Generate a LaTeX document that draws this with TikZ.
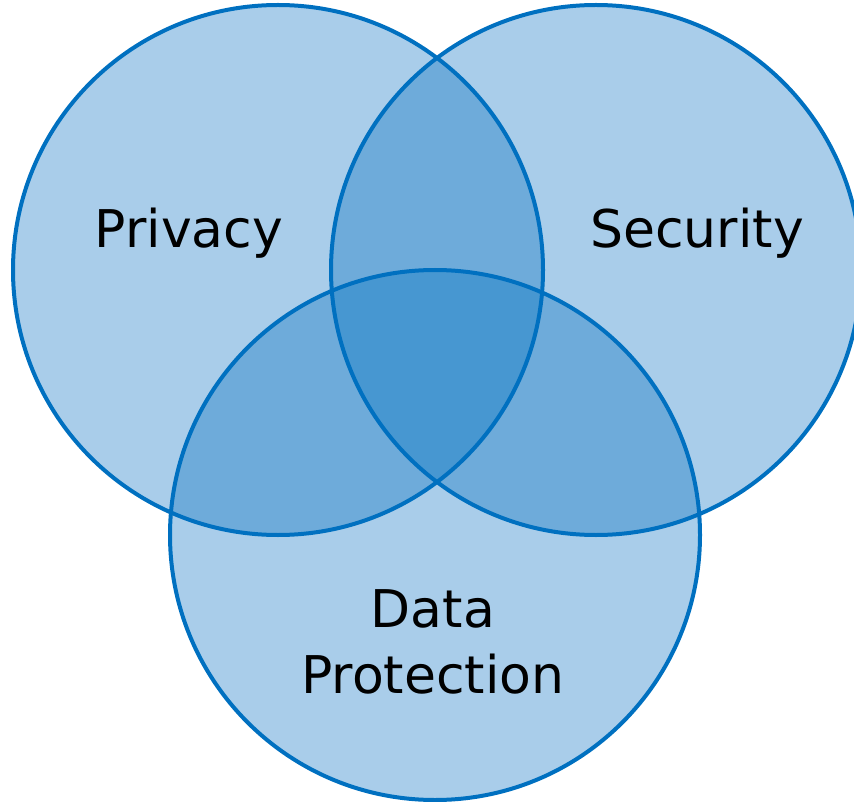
\documentclass[tikz,border=0pt]{standalone}
\usepackage{fontspec}
\setmainfont{DejaVu Sans}
\definecolor{lightfill}{HTML}{A9CDEA}
\definecolor{midfill}{HTML}{6EABDA}
\definecolor{darkfill}{HTML}{4797D1}
\definecolor{ringcol}{HTML}{0070C0}
\begin{document}
\begin{tikzpicture}[x=1pt,y=-1pt,
  ring/.style={draw=ringcol,line width=4pt},
  label/.style={font=\fontsize{52}{66}\selectfont,text=black,inner sep=0pt,align=center}]
\useasboundingbox (0,0) rectangle (854,802);
\clip (0,0) rectangle (854,802);
\def\r{265}
\coordinate (cP) at (278,270);
\coordinate (cS) at (596,270);
\coordinate (cD) at (435,535);
% base fills
\fill[lightfill] (cP) circle (\r);
\fill[lightfill] (cS) circle (\r);
\fill[lightfill] (cD) circle (\r);
% pairwise overlaps
\begin{scope}\clip (cP) circle (\r); \fill[midfill] (cS) circle (\r); \fill[midfill] (cD) circle (\r);\end{scope}
\begin{scope}\clip (cS) circle (\r); \fill[midfill] (cD) circle (\r);\end{scope}
% triple overlap
\begin{scope}\clip (cP) circle (\r); \clip (cS) circle (\r); \fill[darkfill] (cD) circle (\r);\end{scope}
% outlines
\draw[ring] (cP) circle (\r);
\draw[ring] (cS) circle (\r);
\draw[ring] (cD) circle (\r);
% labels
\node[label,anchor=base] (privacy) at (189,248) {Privacy};
\node[label,anchor=base] (security) at (697,248) {Security};
\node[label,anchor=base] (dataprot) at (433,693) {Data\\Protection};
\end{tikzpicture}
\end{document}
